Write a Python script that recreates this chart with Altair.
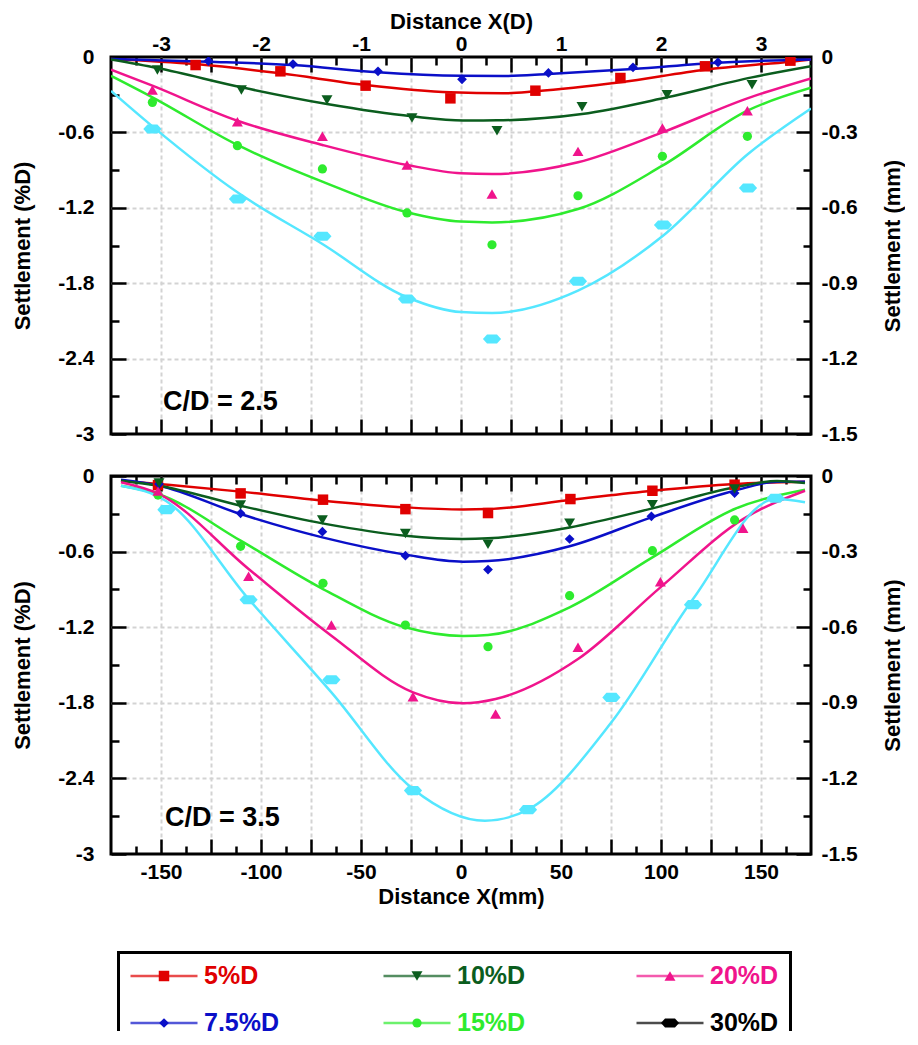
import altair as alt
import pandas as pd

# ---------------- series definitions ----------------
series = ["5%D", "7.5%D", "10%D", "15%D", "20%D", "30%D"]
line_colors = ["#E00000", "#0A0FC8", "#0B5D1E", "#2EEB2E", "#F0148C", "#55E7FF"]
legend_colors = ["#E00000", "#0A0FC8", "#0B5D1E", "#2EEB2E", "#F0148C", "#000000"]
HEX = "M-1,0L-0.55,-0.5L0.55,-0.5L1,0L0.55,0.5L-0.55,0.5Z"
shapes = ["square", "diamond", "triangle-down", "circle", "triangle-up", HEX]
marker_sizes = [110, 95, 120, 85, 120, 330]

# ---------------- C/D = 2.5 : fitted curves (mm, %D) ----------------
top_curve_x = {
    "5%D": [-175, -132.7, -90.3, -47.7, -5.3, 21, 37.2, 79.7, 122, 164.7, 175],
    "7.5%D": [-175, -126.3, -84, -41.5, 0, 21, 43.7, 86, 128.5, 175],
    "10%D": [-175, -151.8, -109.8, -67, -24.5, 1, 18, 60.5, 103, 145.5, 175],
    "15%D": [-175, -154.3, -111.8, -69.3, -27, 0, 15.5, 58.5, 100.7, 143.2, 175],
    "20%D": [-175, -154.3, -111.8, -69.3, -27, 0, 15.5, 58.5, 100.7, 143.2, 175],
    "30%D": [-175, -154.3, -111.8, -69.3, -27, 0, 15.5, 58.5, 101, 143.5, 175],
}
top_curve_y = {
    "5%D": [-0.015, -0.056, -0.13, -0.223, -0.281, -0.289, -0.273, -0.201, -0.101, -0.037, -0.02],
    "7.5%D": [-0.016, -0.037, -0.064, -0.122, -0.15, -0.152, -0.135, -0.095, -0.045, -0.02],
    "10%D": [-0.02, -0.088, -0.241, -0.374, -0.472, -0.505, -0.504, -0.454, -0.321, -0.162, -0.074],
    "15%D": [-0.15, -0.321, -0.7, -0.992, -1.236, -1.31, -1.316, -1.21, -0.865, -0.427, -0.245],
    "20%D": [-0.1, -0.228, -0.507, -0.7, -0.859, -0.925, -0.931, -0.838, -0.6, -0.329, -0.17],
    "30%D": [-0.27, -0.552, -1.077, -1.488, -1.912, -2.03, -2.037, -1.859, -1.422, -0.772, -0.41],
}
# ---------------- C/D = 2.5 : measured points ----------------
top_pts_x = {
    "5%D": [-132.7, -90.3, -47.7, -5.3, 37.2, 79.7, 122, 164.7],
    "7.5%D": [-126.3, -84, -41.5, 0.5, 43.7, 86, 128.5],
    "10%D": [-151.8, -109.8, -67, -24.5, 18, 60.5, 103, 145.5],
    "15%D": [-154.3, -111.8, -69.3, -27, 15.5, 58.5, 100.7, 143.2],
    "20%D": [-154.3, -111.8, -69.3, -27, 15.5, 58.5, 100.7, 143.2],
    "30%D": [-154.3, -111.5, -69.3, -27, 15.5, 58.5, 101, 143.5],
}
top_pts_y = {
    "5%D": [-0.064, -0.114, -0.228, -0.329, -0.268, -0.167, -0.074, -0.029],
    "7.5%D": [-0.032, -0.056, -0.114, -0.178, -0.127, -0.082, -0.042],
    "10%D": [-0.103, -0.263, -0.342, -0.485, -0.586, -0.395, -0.3, -0.22],
    "15%D": [-0.361, -0.706, -0.891, -1.241, -1.494, -1.104, -0.79, -0.631],
    "20%D": [-0.263, -0.515, -0.631, -0.859, -1.09, -0.751, -0.565, -0.427],
    "30%D": [-0.573, -1.13, -1.427, -1.926, -2.244, -1.785, -1.337, -1.042],
}

# ---------------- C/D = 3.5 : fitted curves ----------------
bot_curve_x = {
    "5%D": [-170, -151.5, -110.2, -69, -27.8, 1, 13.5, 54.7, 95.7, 136.8, 172],
    "7.5%D": [-170, -151, -110.2, -69.3, -27.8, 1, 13.5, 54.3, 95.2, 136.8, 158, 172],
    "10%D": [-170, -151, -110.2, -69.3, -27.8, 1, 13.5, 54.3, 95.7, 136.8, 158, 172],
    "15%D": [-170, -151.5, -110.2, -69, -27.8, 1, 13.5, 54.3, 95.7, 136.8, 172],
    "20%D": [-170, -151.5, -106.2, -64.8, -24, 1, 17.3, 58.5, 99.7, 141, 172],
    "30%D": [-170, -147.3, -106.2, -64.8, -24, 12, 33.5, 75.2, 116, 157.3, 172],
}
bot_curve_y = {
    "5%D": [-0.037, -0.063, -0.124, -0.196, -0.249, -0.265, -0.262, -0.19, -0.117, -0.063, -0.045],
    "7.5%D": [-0.03, -0.077, -0.302, -0.487, -0.624, -0.68, -0.675, -0.558, -0.328, -0.117, -0.045, -0.045],
    "10%D": [-0.037, -0.077, -0.236, -0.376, -0.474, -0.5, -0.495, -0.408, -0.257, -0.09, -0.04, -0.056],
    "15%D": [-0.077, -0.143, -0.513, -0.897, -1.201, -1.27, -1.262, -1.042, -0.646, -0.262, -0.109],
    "20%D": [-0.05, -0.14, -0.738, -1.267, -1.717, -1.804, -1.77, -1.453, -0.884, -0.342, -0.117],
    "30%D": [-0.077, -0.2, -0.976, -1.717, -2.484, -2.736, -2.648, -1.955, -0.976, -0.183, -0.209],
}
# ---------------- C/D = 3.5 : measured points ----------------
bot_pts_x = {
    "5%D": [-151.5, -110.2, -69, -27.8, 13.5, 54.7, 95.7, 136.8],
    "7.5%D": [-151, -110.2, -69.3, -27.8, 13.5, 54.3, 95.2, 136.8],
    "10%D": [-151, -110.2, -69.3, -27.8, 13.5, 54.3, 95.7, 136.8],
    "15%D": [-151.5, -110.2, -69, -27.8, 13.5, 54.3, 95.7, 136.8],
    "20%D": [-151.5, -106.2, -64.8, -24, 17.3, 58.5, 99.7, 141],
    "30%D": [-147.3, -106.2, -64.8, -24, 33.5, 75.2, 116, 157.3],
}
bot_pts_y = {
    "5%D": [-0.072, -0.138, -0.188, -0.263, -0.294, -0.183, -0.117, -0.069],
    "7.5%D": [-0.064, -0.296, -0.442, -0.632, -0.743, -0.5, -0.32, -0.135],
    "10%D": [-0.056, -0.231, -0.35, -0.456, -0.541, -0.374, -0.228, -0.103],
    "15%D": [-0.151, -0.558, -0.852, -1.183, -1.355, -0.95, -0.593, -0.349],
    "20%D": [-0.12, -0.796, -1.183, -1.752, -1.889, -1.36, -0.839, -0.415],
    "30%D": [-0.267, -0.982, -1.617, -2.497, -2.648, -1.757, -1.021, -0.177],
}

# annotation text
annot_text = ["C/D = 2.5", "C/D = 3.5"]
annot_x = [-149, -148]
annot_y = [-2.81, -2.78]

# axis tick values / grid values
mm_major = [-150 + 25 * i for i in range(13)]
mm_minor = [-162.5 + 25 * i for i in range(14)]
d_major = [-3 + 0.5 * i for i in range(13)]
d_minor = [-3.25 + 0.5 * i for i in range(14)]
pct_major = [0, -0.6, -1.2, -1.8, -2.4, -3]
pct_minor = [-0.3, -0.9, -1.5, -2.1, -2.7]
mms_major = [0, -0.3, -0.6, -0.9, -1.2, -1.5]
mms_minor = [-0.15, -0.45, -0.75, -1.05, -1.35]
grid_x = mm_major
grid_y = [-0.6, -1.2, -1.8, -2.4]

FONT = "Liberation Sans, Arial, Helvetica, sans-serif"
W = 700
size_of = dict(zip(series, marker_sizes))


def to_long(xd, yd):
    rows = []
    for s in series:
        for xv, yv in zip(xd[s], yd[s]):
            rows.append({"series": s, "x": xv, "s": yv, "msize": size_of[s]})
    return pd.DataFrame(rows)


X_MM = alt.Scale(domain=[-175, 175], nice=False, zero=False)
Y_PCT = alt.Scale(domain=[-3, 0], nice=False, zero=False)
X_D = alt.Scale(domain=[-3.5, 3.5], nice=False, zero=False)
Y_MMS = alt.Scale(domain=[-1.5, 0], nice=False, zero=False)

SIGNED = "(datum.value < 0 ? '-' : '') + format(abs(datum.value), '~g')"


def tick_axis(orient, values, size, labels=False, label_expr=SIGNED, label_pad=6,
              title=None, title_pad=4, title_angle=None, title_baseline=None):
    kw = dict(orient=orient, values=values, offset=-size, tickSize=size, tickWidth=2.5,
              tickColor="black", domain=False, grid=False, labels=labels)
    if labels:
        kw.update(labelExpr=label_expr, labelFont=FONT, labelFontSize=21,
                  labelFontWeight="bold", labelColor="black", labelPadding=label_pad,
                  labelFlush=False, labelOverlap=False)
    if title:
        kw.update(title=title, titleFont=FONT, titleFontSize=22, titleFontWeight="bold",
                  titleColor="black", titlePadding=title_pad)
        if title_angle is not None:
            kw["titleAngle"] = title_angle
        if title_baseline is not None:
            kw["titleBaseline"] = title_baseline
    else:
        kw["title"] = None
    return alt.Axis(**kw)


def panel(curve_df, pts_df, annot_df, height, show_top, show_bottom):
    gx = alt.Axis(values=grid_x, grid=True, gridColor="#d3d3d3", gridDash=[4, 3], gridWidth=2,
                  labels=False, ticks=False, domain=False, title=None)
    gy = alt.Axis(values=grid_y, grid=True, gridColor="#d3d3d3", gridDash=[4, 3], gridWidth=2,
                  labels=False, ticks=False, domain=False, title=None)
    color = alt.Color("series:N", scale=alt.Scale(domain=series, range=line_colors), legend=None)
    lines = alt.Chart(curve_df).mark_line(interpolate="monotone", strokeWidth=2.5, clip=True).encode(
        x=alt.X("x:Q", scale=X_MM, axis=gx),
        y=alt.Y("s:Q", scale=Y_PCT, axis=gy),
        color=color,
    )
    pts = alt.Chart(pts_df).mark_point(filled=True, opacity=1, clip=True).encode(
        x=alt.X("x:Q", scale=X_MM, axis=gx),
        y=alt.Y("s:Q", scale=Y_PCT, axis=gy),
        color=color,
        shape=alt.Shape("series:N", scale=alt.Scale(domain=series, range=shapes), legend=None),
        size=alt.Size("msize:Q", scale=None),
    )
    txt = alt.Chart(annot_df).mark_text(align="left", baseline="alphabetic", font=FONT,
                                        fontSize=27, fontWeight="bold", color="black").encode(
        x=alt.X("x:Q", scale=X_MM, axis=gx),
        y=alt.Y("s:Q", scale=Y_PCT, axis=gy),
        text="label:N",
    )
    inner = alt.layer(lines, pts, txt)

    p_long = alt.Chart(pts_df).mark_point(opacity=0).encode(
        x=alt.X("x:Q", scale=X_MM, axis=tick_axis(
            "bottom", mm_major, 15, labels=show_bottom,
            label_expr="abs(datum.value) % 50 == 0 ? " + SIGNED + " : ''",
            label_pad=7, title="Distance X(mm)" if show_bottom else None, title_pad=4)),
        y=alt.Y("s:Q", scale=Y_PCT, axis=tick_axis(
            "left", pct_major, 15, labels=True, label_pad=17,
            title="Settlement (%D)", title_pad=23)),
    )
    p_short = alt.Chart(pts_df).mark_point(opacity=0).encode(
        x=alt.X("x:Q", scale=X_MM, axis=tick_axis("bottom", mm_minor, 8)),
        y=alt.Y("s:Q", scale=Y_PCT, axis=tick_axis("left", pct_minor, 8)),
    )
    q_long = alt.Chart(pts_df).transform_calculate(
        xd="datum.x / 50", sm="datum.s / 2").mark_point(opacity=0).encode(
        x=alt.X("xd:Q", scale=X_D, axis=tick_axis(
            "top", d_major, 15, labels=show_top,
            label_expr="datum.value % 1 == 0 ? " + SIGNED + " : ''",
            label_pad=3, title="Distance X(D)" if show_top else None, title_pad=0)),
        y=alt.Y("sm:Q", scale=Y_MMS, axis=tick_axis(
            "right", mms_major, 15, labels=True, label_pad=10,
            title="Settlement (mm)", title_pad=25, title_angle=270, title_baseline="top")),
    )
    q_short = alt.Chart(pts_df).transform_calculate(
        xd="datum.x / 50", sm="datum.s / 2").mark_point(opacity=0).encode(
        x=alt.X("xd:Q", scale=X_D, axis=tick_axis("top", d_minor, 8)),
        y=alt.Y("sm:Q", scale=Y_MMS, axis=tick_axis("right", mms_minor, 8)),
    )
    return alt.layer(inner, p_long, p_short, q_long, q_short).resolve_scale(
        x="independent", y="independent").properties(width=W, height=height)


top_curves = to_long(top_curve_x, top_curve_y)
top_pts = to_long(top_pts_x, top_pts_y)
bot_curves = to_long(bot_curve_x, bot_curve_y)
bot_pts = to_long(bot_pts_x, bot_pts_y)
annots = pd.DataFrame({"label": annot_text, "x": annot_x, "s": annot_y})

top_panel = panel(top_curves, top_pts, annots.iloc[[0]], 377, True, False)
bot_panel = panel(bot_curves, bot_pts, annots.iloc[[1]], 378, False, True)

# ---------------- legend ----------------
leg = pd.DataFrame({
    "series": series,
    "col": [i // 2 for i in range(len(series))],
    "row": [i % 2 for i in range(len(series))],
    "lcolor": legend_colors,
    "msize": marker_sizes,
})
LEG_W = 682
LEG_H = 80
lx = alt.X("col:Q", scale=alt.Scale(domain=[0, 2], range=[53, 559]), axis=None)
ly = alt.Y("row:Q", scale=alt.Scale(domain=[0, 1], range=[25, 72]), axis=None)
leg_lines = alt.Chart(leg).mark_tick(orient="horizontal", size=67, thickness=2.5).encode(
    x=lx, y=ly, color=alt.Color("lcolor:N", scale=None))
leg_pts = alt.Chart(leg).mark_point(filled=True, opacity=1).encode(
    x=lx, y=ly, color=alt.Color("lcolor:N", scale=None),
    shape=alt.Shape("series:N", scale=alt.Scale(domain=series, range=shapes), legend=None),
    size=alt.Size("msize:Q", scale=None))
leg_text = alt.Chart(leg).mark_text(align="left", baseline="middle", dx=40, font=FONT,
                                    fontSize=25, fontWeight="bold").encode(
    x=lx, y=ly, text="series:N", color=alt.Color("lcolor:N", scale=None))
leg_box = alt.Chart(leg).mark_rect(fillOpacity=0, stroke="black", strokeWidth=3, clip=True).encode(
    x=alt.value(7.5), x2=alt.value(679.5), y=alt.value(1.5), y2=alt.value(200))
legend = alt.layer(leg_box, leg_lines, leg_pts, leg_text).properties(
    width=LEG_W, height=LEG_H, view=alt.ViewBackground(stroke=None))

chart = alt.vconcat(
    alt.vconcat(top_panel, bot_panel, spacing=17),
    legend,
    spacing=42,
).properties(
    padding={"left": 2, "top": 0, "right": 0, "bottom": 0}
).configure_view(stroke="black", strokeWidth=3)

chart.save("out.html", embed_options={"renderer": "svg", "actions": False})
